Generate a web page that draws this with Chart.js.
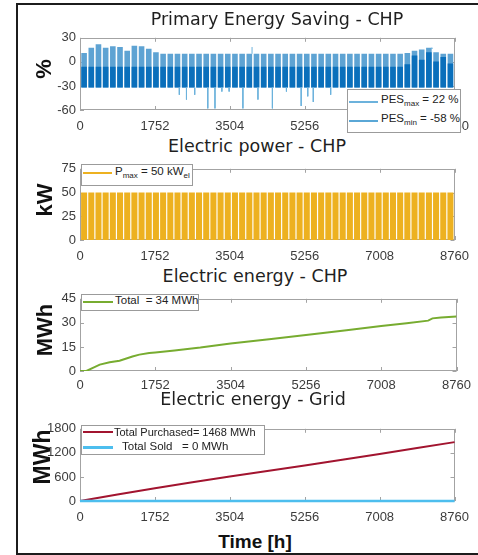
<!DOCTYPE html>
<html lang="en">
<head>
<meta charset="utf-8">
<title>CHP annual simulation</title>
<script src="https://cdn.jsdelivr.net/npm/chart.js@4.4.1/dist/chart.umd.min.js"></script>
<style>
  html, body { margin: 0; padding: 0; background: #ffffff; }
  body { position: relative; width: 478px; height: 555px; overflow: hidden;
         font-family: "Liberation Sans", Arial, sans-serif; }
  .frame { position: absolute; left: 16px; top: 3px; width: 480px; height: 548px;
           border: 2px solid #1c1c1c; }
  canvas { position: absolute; left: 17px; }
  .title { position: absolute; white-space: nowrap; line-height: 1; color: #1f1f1f;
           font-family: "DejaVu Sans", sans-serif; font-size: 17.5px; transform: translateX(-50%); }
  .ylab { position: absolute; white-space: nowrap; line-height: 1; font-weight: bold; color: #111;
          font-size: 22px; transform: translate(-50%, -50%) rotate(-90deg); }
  .xlab { position: absolute; white-space: nowrap; line-height: 1; font-weight: bold; color: #111;
          font-size: 19px; transform: translateX(-50%); }
  .lgbox { position: absolute; background: #fff; border: 1px solid #9b9b9b; box-sizing: border-box; }
  .lgline { position: absolute; }
  .lgtext { position: absolute; white-space: nowrap; line-height: 1; font-size: 11.5px; color: #222; }
  .sb { font-size: 8px; position: relative; top: 3px; }
</style>
</head>
<body>
<div class="frame"></div>
<canvas id="pes" width="461" height="110" style="top:26px"></canvas>
<canvas id="power" width="461" height="109" style="top:157px"></canvas>
<canvas id="energy" width="461" height="110" style="top:287px"></canvas>
<canvas id="grid" width="461" height="110" style="top:417px"></canvas>

<div class="title" style="left:277px;top:11px">Primary Energy Saving - CHP</div>
<div class="title" style="left:257px;top:138px">Electric power - CHP</div>
<div class="title" style="left:255px;top:268px">Electric energy - CHP</div>
<div class="title" style="left:253px;top:391px">Electric energy - Grid</div>

<div class="ylab" style="left:44px;top:69px">%</div>
<div class="ylab" style="left:45px;top:200px">kW</div>
<div class="ylab" style="left:45px;top:330px">MWh</div>
<div class="ylab" style="left:42px;top:457px;font-size:23px">MWh</div>
<div class="xlab" style="left:255px;top:532px">Time [h]</div>

<div class="lgbox" style="left:347px;top:89px;width:114px;height:44px"></div>
<div class="lgline" style="left:349px;top:101px;width:29px;height:1.5px;background:#6cb2dc"></div>
<div class="lgline" style="left:349px;top:120px;width:29px;height:1.5px;background:#5aa7d6"></div>
<div class="lgtext" style="left:381px;top:94px">PES<span class="sb">max</span> = 22 %</div>
<div class="lgtext" style="left:381px;top:113px">PES<span class="sb">min</span> = -58 %</div>

<div class="lgbox" style="left:81px;top:164px;width:112px;height:22px"></div>
<div class="lgline" style="left:83px;top:172px;width:29px;height:2px;background:#edb120"></div>
<div class="lgtext" style="left:115px;top:166px">P<span class="sb">max</span> = 50 kW<span class="sb">el</span></div>

<div class="lgbox" style="left:81px;top:294px;width:118px;height:17px"></div>
<div class="lgline" style="left:83px;top:301px;width:30px;height:2px;background:#77ac30"></div>
<div class="lgtext" style="left:115px;top:295px">Total&nbsp; = 34 MWh</div>

<div class="lgbox" style="left:81px;top:425px;width:184px;height:30px"></div>
<div class="lgline" style="left:83px;top:431px;width:30px;height:2px;background:#a2142f"></div>
<div class="lgline" style="left:83px;top:446px;width:30px;height:2.5px;background:#4dbeee"></div>
<div class="lgtext" style="left:114px;top:427px;font-size:11px">Total Purchased= 1468 MWh</div>
<div class="lgtext" style="left:122px;top:441px">Total Sold</div>
<div class="lgtext" style="left:182px;top:441px">= 0 MWh</div>

<script>
// ---- shared axis values ----
const xTickHours = [0, 1752, 3504, 5256, 7008, 8760];
const HOURS_PER_WEEK = 168;

// ---- Primary Energy Saving (%), weekly envelope of the hourly PES ----
const pesWeekTop = [11, 17.5, 22, 17.5, 19.5, 18.5, 14, 20, 19.5, 16.5, 12,
  10, 10, 10, 10, 10, 10, 10, 10, 10, 10, 10, 10, 10, 10, 10, 10, 10,
  10, 10, 10, 10, 10, 10, 10, 10, 10, 10, 10, 10, 10, 10, 10, 10, 10,
  11, 14, 15.5, 17.5, 12, 10, 10];
const pesBandTop = [-6, -6, -6, -6, -6, -6, -6, -6, -6, -6, -6,
  -6, -6, -6, -6, -6, -6, -6, -6, -6, -6, -6, -6, -6, -6, -6, -6, -6,
  -6, -6, -6, -6, -6, -6, -6, -6, -6, -6, -6, -6, -6, -6, -6, -6, -6,
  -3, 8, 2.5, 12, 0.5, 6, -2];
const pesWeekLow = [-32, -32, -32, -32, -32, -32, -32, -32, -32, -32, -32,
  -32, -32, -32, -32, -32, -32, -32, -32, -32, -32, -32, -32, -32, -32, -32, -32, -32,
  -32, -32, -32, -32, -32, -32, -32, -32, -32, -32, -32, -32, -32, -32, -32, -32, -32,
  -32, -32, -32, -32, -32, -32, -32];
// isolated hours falling below the weekly floor
const pesDipHours  = [2323, 2490, 2683, 2989, 3157, 3318, 3488, 3810, 4162, 4500, 4828, 5173, 5327, 5456, 5863];
const pesDipValues = [-41, -47, -41, -58, -58, -37, -37, -58, -47, -58, -37, -55, -43, -50, -41];
// isolated hours rising above the weekly top
const pesPeakHours  = [4024, 8231];
const pesPeakValues = [18.5, 16.5];
const pesTicks = [-60, -30, 0, 30];

// ---- CHP electric power (kW), one block per operating week ----
const chpPowerKW = [50, 50, 50, 50, 50, 50, 50, 50, 50, 50, 50, 50, 50,
  50, 50, 50, 50, 50, 50, 50, 50, 50, 50, 50, 50, 50,
  50, 50, 50, 50, 50, 50, 50, 50, 50, 50, 50, 50, 50,
  50, 50, 50, 50, 50, 50, 50, 50, 50, 50, 50, 50, 50];
const powerTicks = [0, 25, 50, 75];

// ---- cumulative CHP electric energy (MWh) ----
const chpEnergyHours = [0, 150, 300, 460, 690, 920, 1220, 1380, 1610, 1752, 2200, 2800, 3504,
  4400, 5256, 6200, 7008, 7600, 8100, 8200, 8400, 8760];
const chpEnergyMWh = [0, 0, 2.0, 4.0, 5.4, 6.4, 9.0, 10.2, 11.2, 11.6, 12.8, 14.6, 17.2,
  19.8, 22.4, 25.4, 28.0, 29.8, 31.4, 32.8, 33.3, 34.0];
const energyTicks = [0, 15, 30, 45];

// ---- cumulative grid exchange (MWh) ----
const gridHours = [0, 876, 1752, 2628, 3504, 4380, 5256, 6132, 7008, 7884, 8760];
const gridPurchasedMWh = [0, 160, 318, 465, 612, 750, 885, 1030, 1172, 1320, 1468];
const gridSoldMWh = [0, 0, 0, 0, 0, 0, 0, 0, 0, 0, 0];
const gridTicks = [0, 600, 1200, 1800];

// operating block of week i: the first day is off, the remaining six run
const weekMid = chpPowerKW.map((_, i) => i * HOURS_PER_WEEK + 96);
const weekOf = h => Math.min(pesWeekLow.length - 1, Math.floor(h / HOURS_PER_WEEK));

Chart.defaults.font.family = '"Liberation Sans", Arial, sans-serif';
Chart.defaults.font.size = 13;
Chart.defaults.color = '#3c3c3c';

// grey axes box with short inward tick marks on all four sides
const axesBox = {
  id: 'axesBox',
  beforeDatasetsDraw(chart) {
    const { ctx, chartArea: a, scales: { x, y } } = chart;
    ctx.save();
    ctx.strokeStyle = '#a3a3a3';
    ctx.lineWidth = 1;
    ctx.strokeRect(Math.round(a.left) + 0.5, Math.round(a.top) + 0.5,
      Math.round(a.right - a.left) - 1, Math.round(a.bottom - a.top) - 1);
    ctx.beginPath();
    x.ticks.forEach(t => {
      const px = Math.round(x.getPixelForValue(t.value)) + 0.5;
      ctx.moveTo(px, a.bottom); ctx.lineTo(px, a.bottom - 4);
      ctx.moveTo(px, a.top); ctx.lineTo(px, a.top + 4);
    });
    y.ticks.forEach(t => {
      const py = Math.round(y.getPixelForValue(t.value)) + 0.5;
      ctx.moveTo(a.left, py); ctx.lineTo(a.left + 4, py);
      ctx.moveTo(a.right, py); ctx.lineTo(a.right - 4, py);
    });
    ctx.stroke();
    ctx.restore();
  }
};

function panelOptions(yMin, yMax, yTicks, xPad) {
  return {
    responsive: false,
    animation: false,
    devicePixelRatio: 1,
    layout: { padding: { top: 6, right: 17, left: 0, bottom: 0 } },
    plugins: { legend: { display: false }, tooltip: { enabled: false }, title: { display: false } },
    scales: {
      x: {
        type: 'linear', min: 0, max: 8760, offset: false,
        afterBuildTicks: s => { s.ticks = xTickHours.map(v => ({ value: v })); },
        afterFit: s => { s.height = 26; },
        grid: { display: false, drawTicks: false },
        border: { display: false },
        ticks: { padding: xPad, maxRotation: 0, autoSkip: false, callback: v => String(v) }
      },
      y: {
        type: 'linear', min: yMin, max: yMax,
        afterBuildTicks: s => { s.ticks = yTicks.map(v => ({ value: v })); },
        afterFit: s => { s.width = 63; },
        grid: { display: false, drawTicks: false },
        border: { display: false },
        ticks: { padding: 4, callback: v => String(v) }
      }
    }
  };
}

// weekly blocks share one look: no inflation so the off-day gap stays white
const weekBar = { grouped: false, categoryPercentage: 1, barPercentage: 0.84, inflateAmount: 0, borderWidth: 0 };
const pesBar = Object.assign({}, weekBar, { barPercentage: 0.78 });

// vertical strokes for the isolated dips and peaks
const pesSpikes = [];
pesDipHours.forEach((h, i) => {
  pesSpikes.push({ x: h, y: pesWeekLow[weekOf(h)] }, { x: h, y: pesDipValues[i] }, { x: h, y: null });
});
pesPeakHours.forEach((h, i) => {
  pesSpikes.push({ x: h, y: pesWeekTop[weekOf(h)] }, { x: h, y: pesPeakValues[i] }, { x: h, y: null });
});

new Chart(document.getElementById('pes'), {
  type: 'bar',
  data: {
    datasets: [
      { type: 'line', data: pesSpikes, borderColor: '#6cb2dc', borderWidth: 1, pointRadius: 0,
        spanGaps: false, order: 0 },
      Object.assign({ data: weekMid.map((h, i) => ({ x: h, y: [pesWeekLow[i], pesBandTop[i]] })),
        backgroundColor: '#0a6fbb', order: 1 }, pesBar),
      Object.assign({ data: weekMid.map((h, i) => ({ x: h, y: [pesWeekLow[i], pesWeekTop[i]] })),
        backgroundColor: '#5ea3d3', order: 2 }, pesBar)
    ]
  },
  options: panelOptions(-60, 30, pesTicks, 9),
  plugins: [axesBox]
});

new Chart(document.getElementById('power'), {
  type: 'bar',
  data: {
    datasets: [
      Object.assign({ data: weekMid.map((h, i) => ({ x: h, y: chpPowerKW[i] })),
        backgroundColor: '#edb120' }, weekBar)
    ]
  },
  options: panelOptions(0, 75, powerTicks, 9),
  plugins: [axesBox]
});

new Chart(document.getElementById('energy'), {
  type: 'line',
  data: {
    datasets: [
      { data: chpEnergyHours.map((h, i) => ({ x: h, y: chpEnergyMWh[i] })),
        borderColor: '#77ac30', borderWidth: 2, pointRadius: 0, tension: 0 }
    ]
  },
  options: panelOptions(0, 45, energyTicks, 7),
  plugins: [axesBox]
});

new Chart(document.getElementById('grid'), {
  type: 'line',
  data: {
    datasets: [
      { data: gridHours.map((h, i) => ({ x: h, y: gridSoldMWh[i] })),
        borderColor: '#4dbeee', borderWidth: 2.5, pointRadius: 0, clip: 4, order: 0 },
      { data: gridHours.map((h, i) => ({ x: h, y: gridPurchasedMWh[i] })),
        borderColor: '#a2142f', borderWidth: 2, pointRadius: 0, clip: 4, order: 1 }
    ]
  },
  options: panelOptions(0, 1800, gridTicks, 9),
  plugins: [axesBox]
});
</script>
</body>
</html>
